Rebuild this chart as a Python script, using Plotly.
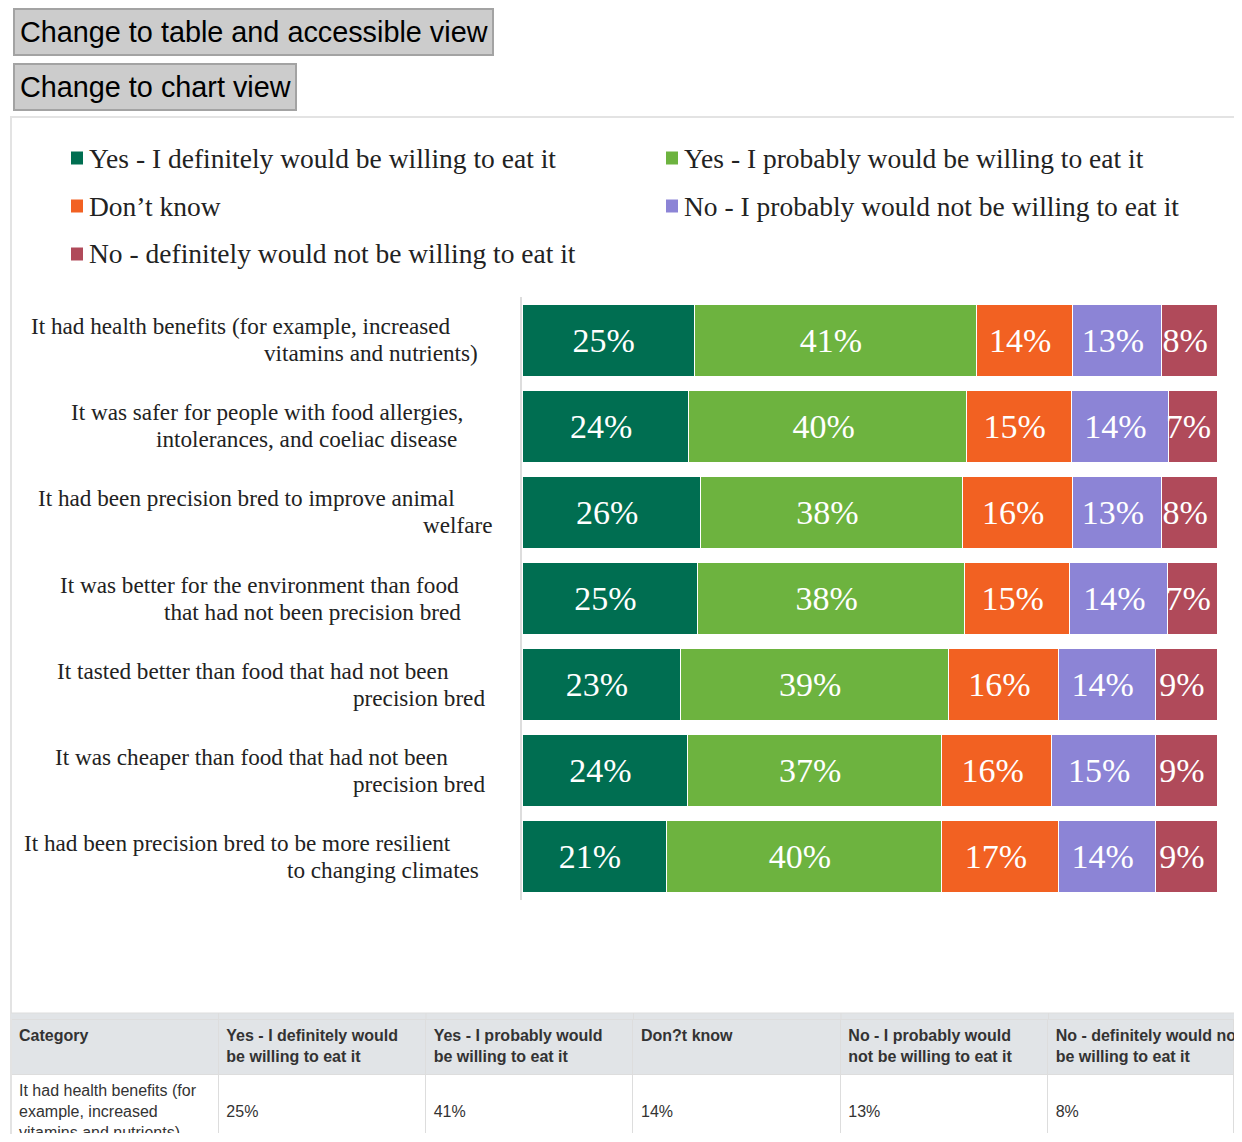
import plotly.graph_objects as go

# ---------------- data ----------------
categories = [
    "It had health benefits (for example, increased vitamins and nutrients)",
    "It was safer for people with food allergies, intolerances, and coeliac disease",
    "It had been precision bred to improve animal welfare",
    "It was better for the environment than food that had not been precision bred",
    "It tasted better than food that had not been precision bred",
    "It was cheaper than food that had not been precision bred",
    "It had been precision bred to be more resilient to changing climates",
]
label_lines = [
    ("It had health benefits (for example, increased", "vitamins and nutrients)"),
    ("It was safer for people with food allergies,", "intolerances, and coeliac disease"),
    ("It had been precision bred to improve animal", "welfare"),
    ("It was better for the environment than food", "that had not been precision bred"),
    ("It tasted better than food that had not been", "precision bred"),
    ("It was cheaper than food that had not been", "precision bred"),
    ("It had been precision bred to be more resilient", "to changing climates"),
]
table_category_text = [
    "It had health benefits (for<br>example, increased<br>vitamins and nutrients)",
    "It was safer for people with<br>food allergies, intolerances,<br>and coeliac disease",
    "It had been precision bred<br>to improve animal welfare",
    "It was better for the<br>environment than food that<br>had not been precision bred",
    "It tasted better than food<br>that had not been precision<br>bred",
    "It was cheaper than food<br>that had not been precision<br>bred",
    "It had been precision bred<br>to be more resilient to<br>changing climates",
]
series_names = [
    "Yes - I definitely would be willing to eat it",
    "Yes - I probably would be willing to eat it",
    "Don\u2019t know",
    "No - I probably would not be willing to eat it",
    "No - definitely would not be willing to eat it",
]
table_headers = [
    "Category",
    "Yes - I definitely would<br>be willing to eat it",
    "Yes - I probably would<br>be willing to eat it",
    "Don?t know",
    "No - I probably would<br>not be willing to eat it",
    "No - definitely would not<br>be willing to eat it",
]
definitely_yes = [25, 24, 26, 25, 23, 24, 21]
probably_yes = [41, 40, 38, 38, 39, 37, 40]
dont_know = [14, 15, 16, 15, 16, 16, 17]
probably_no = [13, 14, 13, 14, 14, 15, 14]
definitely_no = [8, 7, 8, 7, 9, 9, 9]
series_values = [definitely_yes, probably_yes, dont_know, probably_no, definitely_no]

# ---------------- styles ----------------
colors = ["#006E51", "#6DB33F", "#F26122", "#8C84D6", "#B04A5A"]
# right edge (page px) for line 1 and line 2 of each category label
label_right = [(452, 479), (464, 458), (456, 494), (460, 462), (450, 486), (449, 486), (452, 480)]
# legend layout (page px): column x of square, row y centres
legend_cols = [71, 666]
legend_rows = [158, 206, 254]
col_widths = [207.5, 207.5, 207.5, 207.5, 207.5, 186.5]
HEADER_FILL = "#E1E4E7"
GRID = "#DDDDDD"

W, H = 1226, 1126
OFF = 8
SERIF = "Liberation Serif, Times New Roman, serif"
SANS = "Liberation Sans, Arial, sans-serif"


def px(x):
    return (x - OFF) / W


def py(y):
    return 1 - (y - OFF) / H


fig = go.Figure()

NBSP = "\u00a0"
for name, vals, col in zip(series_names, series_values, colors):
    fig.add_trace(go.Bar(
        name=name, y=categories, x=vals, orientation="h",
        marker=dict(color=col, line=dict(color="#ffffff", width=1)),
        text=[f"{v}%{NBSP}" for v in vals], textposition="inside",
        insidetextanchor="middle", constraintext="none", textangle=0,
        textfont=dict(family=SERIF, size=34, color="#ffffff"),
        hoverinfo="name+x", showlegend=False,
    ))

annotations = []
shapes = []

# buttons
for (x0, y0, x1, y1, txt) in [(14, 9, 493, 55, "Change to table and accessible view"),
                              (14, 64, 296, 110, "Change to chart view")]:
    shapes.append(dict(type="rect", xref="paper", yref="paper",
                       x0=px(x0), x1=px(x1), y0=py(y1), y1=py(y0),
                       fillcolor="#CCCCCC", line=dict(color="#A3A3A3", width=2), layer="below"))
    annotations.append(dict(text=txt, xref="paper", yref="paper", x=px(x0 + 4), y=py((y0 + y1) / 2),
                            xanchor="left", yanchor="middle", showarrow=False,
                            font=dict(family=SANS, size=28.8, color="#000000")))

# chart container borders
shapes.append(dict(type="line", xref="paper", yref="paper", x0=px(10), x1=1, y0=py(117), y1=py(117),
                   line=dict(color="#E3E3E3", width=2)))
shapes.append(dict(type="line", xref="paper", yref="paper", x0=px(11), x1=px(11), y0=py(117), y1=0,
                   line=dict(color="#E3E3E3", width=2)))

# legend (two columns, row-major order)
for i, (name, col) in enumerate(zip(series_names, colors)):
    lx = legend_cols[i % 2]
    ly = legend_rows[i // 2]
    shapes.append(dict(type="rect", xref="paper", yref="paper",
                       x0=px(lx), x1=px(lx + 12), y0=py(ly + 6.5), y1=py(ly - 6.5),
                       fillcolor=col, line=dict(width=0)))
    annotations.append(dict(text=name, xref="paper", yref="paper", x=px(lx + 16), y=py(ly),
                            xanchor="left", yanchor="middle", showarrow=False,
                            font=dict(family=SERIF, size=27.5, color="#222222")))

# category labels
for cat, (l1, l2), (r1, r2) in zip(categories, label_lines, label_right):
    annotations.append(dict(text=l1, xref="paper", yref="y", x=px(r1 + 1), y=cat, yshift=14,
                            xanchor="right", yanchor="middle", showarrow=False,
                            font=dict(family=SERIF, size=23.2, color="#222222")))
    annotations.append(dict(text=l2, xref="paper", yref="y", x=px(r2 + 1), y=cat, yshift=-13,
                            xanchor="right", yanchor="middle", showarrow=False,
                            font=dict(family=SERIF, size=23.2, color="#222222")))

# table: a thin header strip above the Plotly table pushes header text down
TABLE_LEFT, STRIP_TOP, TABLE_TOP = 11, 1013, 1019
shapes.append(dict(type="rect", xref="paper", yref="paper", x0=px(TABLE_LEFT), x1=1,
                   y0=py(TABLE_TOP), y1=py(STRIP_TOP), fillcolor=HEADER_FILL,
                   line=dict(width=0)))
shapes.append(dict(type="line", xref="paper", yref="paper", x0=px(TABLE_LEFT), x1=1,
                   y0=py(STRIP_TOP), y1=py(STRIP_TOP), line=dict(color=GRID, width=1)))
edge = TABLE_LEFT
for wdt in col_widths[:-1]:
    edge += wdt
    shapes.append(dict(type="line", xref="paper", yref="paper", x0=px(edge), x1=px(edge),
                       y0=py(TABLE_TOP), y1=py(STRIP_TOP), line=dict(color=GRID, width=1)))

n_lines = [t.count("<br>") + 1 for t in table_category_text]
cols = [table_category_text] + [[(NBSP + "<br>") * ((n - 1) // 2) + f"{v}%" for v, n in zip(s, n_lines)]
                                for s in series_values]
fig.add_trace(go.Table(
    domain=dict(x=[px(TABLE_LEFT), 1], y=[0, py(TABLE_TOP)]),
    columnwidth=col_widths,
    header=dict(values=[f"<b>{h}</b>" for h in table_headers], fill_color=HEADER_FILL,
                line_color=GRID, align="left", height=55,
                font=dict(family=SANS, size=16, color="#333333")),
    cells=dict(values=cols, fill_color="#FFFFFF", line_color=GRID, align="left", height=70,
               font=dict(family=SANS, size=16, color="#333333")),
))

fig.update_layout(
    width=W, height=H, margin=dict(l=0, r=0, t=0, b=0),
    paper_bgcolor="#FFFFFF", plot_bgcolor="#FFFFFF",
    font=dict(family=SERIF, color="#222222"),
    barmode="stack", barnorm="percent", bargap=0.165,
    xaxis=dict(domain=[px(522), px(1217)], range=[0, 100], visible=False, fixedrange=True),
    yaxis=dict(domain=[py(900), py(297)], autorange="reversed", showticklabels=False,
               showline=True, linecolor="#DDDDDD", linewidth=2, showgrid=False, ticks="",
               fixedrange=True),
    showlegend=False,
    shapes=shapes, annotations=annotations,
)

fig.write_html("out.html")
